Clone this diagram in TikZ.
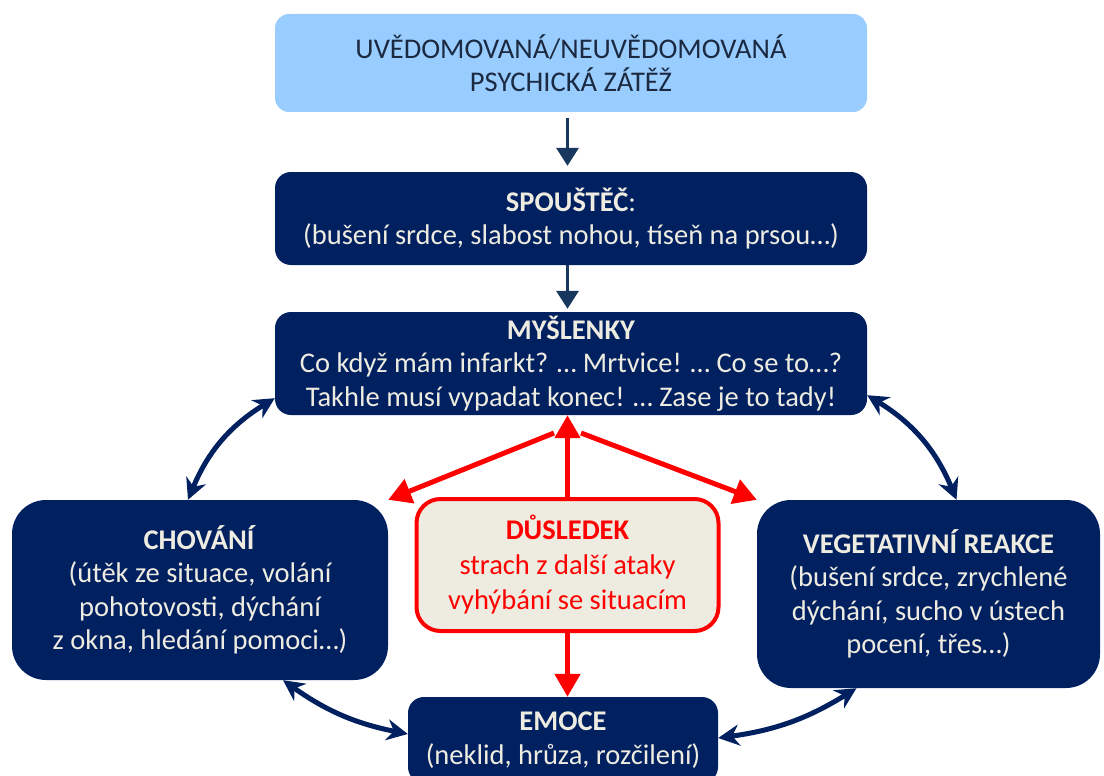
\documentclass[tikz,border=0pt]{standalone}
\usepackage{fontspec}
\setmainfont{Carlito}
\usepackage{tikz}
\usetikzlibrary{arrows.meta}

\definecolor{navy}{HTML}{002060}
\definecolor{cream}{HTML}{EEECE1}
\definecolor{skyfill}{HTML}{99CCFF}
\definecolor{inkdark}{HTML}{1B2A41}
\definecolor{arrowdark}{HTML}{17375E}
\definecolor{alarm}{HTML}{FF0000}

\tikzset{
  navybox/.style={rectangle, rounded corners=16pt, fill=navy, text=cream,
    align=center, inner sep=0pt, font=\fontsize{28.5}{33.5}\selectfont},
  cyclearrow/.style={draw=navy, line width=5pt,
    {Stealth[length=21pt,width=21pt]}-{Stealth[length=21pt,width=21pt]}},
  redline/.style={draw=alarm, line width=5pt, -{Triangle[length=23pt,width=25pt]}}
}

\begin{document}
\begin{tikzpicture}[x=1pt, y=-1pt]
        \useasboundingbox (0,0) rectangle (1104,776);

        % boxes
        \node [rectangle, rounded corners=14pt, fill=skyfill, text=inkdark, align=center,
               inner sep=0pt, font=\fontsize{28.5}{33.5}\selectfont,
               minimum width=592pt, minimum height=98pt] (top) at (571,63)
              {UVĚDOMOVANÁ/NEUVĚDOMOVANÁ\\PSYCHICKÁ ZÁTĚŽ};
        \node [navybox, minimum width=592pt, minimum height=93pt] (spo) at (571,218.5)
              {\textbf{SPOUŠTĚČ}:\\(bušení srdce, slabost nohou, tíseň na prsou…)};
        \node [navybox, minimum width=592pt, minimum height=103pt] (mys) at (571,363.5)
              {\textbf{MYŠLENKY}\\Co když mám infarkt? … Mrtvice! … Co se to…?\\Takhle musí vypadat konec! … Zase je to tady!};
        \node [navybox, rounded corners=34pt, minimum width=376pt, minimum height=180pt] (cho) at (200,590)
              {\textbf{CHOVÁNÍ}\\(útěk ze situace, volání\\pohotovosti, dýchání\\z okna, hledání pomoci…)};
        \node [navybox, rounded corners=34pt, minimum width=343pt, minimum height=188pt] (veg) at (928.5,594)
              {\textbf{VEGETATIVNÍ REAKCE}\\(bušení srdce, zrychlené\\dýchání, sucho v ústech\\pocení, třes…)};
        \node [navybox, minimum width=310pt, minimum height=86pt] (emo) at (563,740)
              {\textbf{EMOCE}\\(neklid, hrůza, rozčilení)};
        \node [rectangle, rounded corners=24pt, draw=alarm, line width=4pt, fill=cream,
               text=alarm, align=center, inner sep=0pt, font=\fontsize{28.5}{35}\selectfont,
               minimum width=302pt, minimum height=132pt] (dus) at (567.5,565)
              {\textbf{DŮSLEDEK}\\strach z další ataky\\vyhýbání se situacím};

        % main chain
        \draw [draw=arrowdark, line width=3.5pt, -{Triangle[length=18pt,width=22pt]},
               shorten <=6pt, shorten >=6pt] (top.south -| dus.north) -- (spo.north -| dus.north);
        \draw [draw=arrowdark, line width=3.5pt, -{Triangle[length=18pt,width=22pt]},
               shorten >=3pt] (spo.south -| dus.north) -- (mys.north -| dus.north);

        % circle of influences
        \draw [cyclearrow] ([xshift=-12pt]cho.north) to [bend left=18] ([yshift=17pt]mys.south west);
        \draw [cyclearrow] ([yshift=20pt]mys.south east) to [bend left=18] ([xshift=28pt]veg.north);
        \draw [cyclearrow] ([xshift=83pt]cho.south) to [bend right=12] ([yshift=6pt]emo.west);
        \draw [cyclearrow] ([xshift=-72pt]veg.south) to [bend left=12] ([yshift=2pt]emo.east);

        % consequence
        \coordinate (forkl) at (554,433);
        \coordinate (forkr) at (581,433);
        \draw [redline] (dus.north) -- (dus.north |- mys.south);
        \draw [redline] (forkl) -- (cho.north east);
        \draw [redline] (forkr) -- (veg.north west);
        \draw [redline] (dus.south) -- (dus.south |- emo.north);
      \end{tikzpicture}
\end{document}
